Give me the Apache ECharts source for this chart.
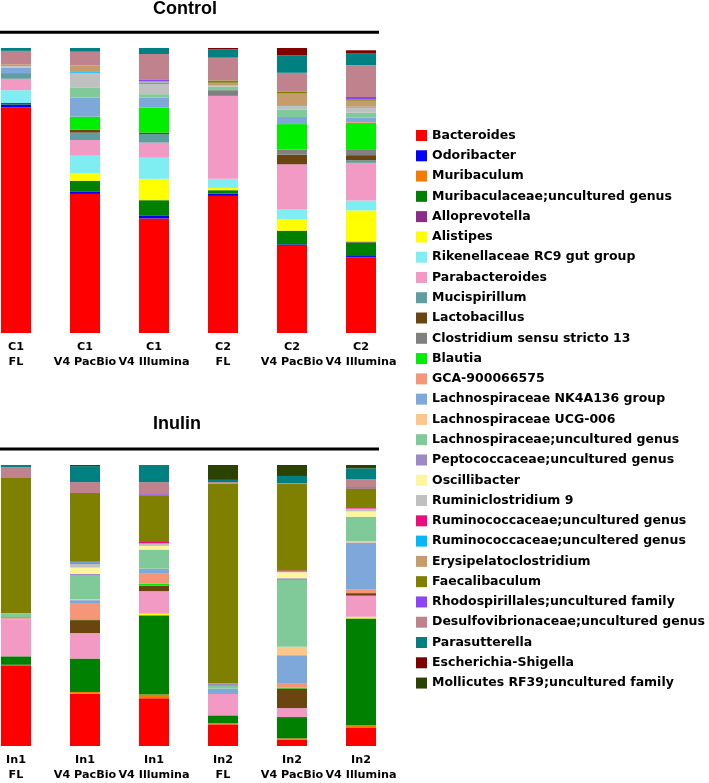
<!DOCTYPE html>
<html>
<head>
<meta charset="utf-8">
<script src="https://cdn.jsdelivr.net/npm/echarts@6/dist/echarts.min.js"></script>
<style>html,body{margin:0;padding:0;background:#fff;}#chart{width:709px;height:783px;}</style>
</head>
<body>
<div id="chart"></div>
<script>
// Taxa, in stacking order (bottom to top) and legend order
const taxa = [
  'Bacteroides','Odoribacter','Muribaculum','Muribaculaceae;uncultured genus',
  'Alloprevotella','Alistipes','Rikenellaceae RC9 gut group','Parabacteroides',
  'Mucispirillum','Lactobacillus','Clostridium sensu stricto 13','Blautia',
  'GCA-900066575','Lachnospiraceae NK4A136 group','Lachnospiraceae UCG-006','Lachnospiraceae;uncultured genus',
  'Peptococcaceae;uncultured genus','Oscillibacter','Ruminiclostridium 9','Ruminococcaceae;uncultured genus',
  'Ruminococcaceae;uncultered genus','Erysipelatoclostridium','Faecalibaculum','Rhodospirillales;uncultured family',
  'Desulfovibrionaceae;uncultured genus','Parasutterella','Escherichia-Shigella','Mollicutes RF39;uncultured family'
];
const taxaColors = [
  '#ff0000','#0000ff','#f57a00','#008000',
  '#8e2a8e','#ffff00','#7feef2','#f29ac4',
  '#5f9ea0','#6a4510','#808080','#00ee00',
  '#f69679','#7ea8da','#fdc68a','#80ca9a',
  '#9e88c5','#fff59d','#c0c0c0','#ee0a7f',
  '#00b8fa','#c69c6d','#808000','#8b44fa',
  '#c0828c','#008080','#800000','#2b4200'
];

// Bar labels
const controlLabels = ['C1\nFL','C1\nV4 PacBio','C1\nV4 Illumina','C2\nFL','C2\nV4 PacBio','C2\nV4 Illumina'];
const inulinLabels = ['In1\nFL','In1\nV4 PacBio','In1\nV4 Illumina','In2\nFL','In2\nV4 PacBio','In2\nV4 Illumina'];

// Relative abundance (%) per sample, one value per taxon in the order above
const c1FL        = [79.2,1,0,0.5, 0,0,4.5,4, 2,0,0,0, 0,1.9,0,0, 0,0,0.5,0, 0,0.7,0,0, 4.7,1,0,0];
const c1PacBio    = [48.8,0.9,0,3.7, 0,2.6,6.2,5.5, 2.6,1,0,4.6, 0,6.7,0,3.4, 0,0,5.3,0, 0.3,2.3,0,0, 4.8,1.3,0,0];
const c1Illumina  = [40.2,0.9,0,5.5, 0,7.5,7.4,5.3, 3,0.5,0,8.8, 0,3.5,0,1.2, 0,0,3.6,0, 0.5,0.5,0,0.4, 9.1,2.1,0,0];
const c2FL        = [48.1,0.8,0,1.2, 0,0.8,3.2,29.1, 0,0,2,0, 0,0,0,1.2, 0,0,0.4,0, 0,1,0.8,0, 8,2.9,0.5,0];
const c2PacBio    = [30.6,0.5,0,4.8, 0,4.1,3.5,15.7, 0,3.4,1.8,8.9, 0,2.5,0,2.5, 0,0,1.3,0, 0.3,4.1,0.6,0, 6.7,6.1,2.6,0];
const c2Illumina  = [26.5,0.5,0,4.8, 0.3,10.9,3.5,13.2, 0.9,1.8,2.1,9.2, 0.3,1.5,0,1.8, 0,0,1.8,0, 0.3,2.1,0.5,0.8, 11.1,4.3,1,0];
const in1FL       = [28.7,0,0.2,3.0, 0,0,0,13.2, 0,0,0,0, 0.4,0.4,0,1.3, 0,0,0,0, 0,0,48.4,0, 3.7,0.7,0,0];
const in1PacBio   = [18.6,0,0.6,11.9, 0,0,0,9.1, 0,4.6,0,0.3, 5.5,1.3,0.3,8.4, 0.6,2.3,1.4,0.4, 0.3,0,24.4,0, 3.9,5.7,0,0.4];
const in1Illumina = [17,0,1.3,28.2, 0,0.6,0,8, 0,2,0,0.6, 3.6,1.8,0,6.8, 0,1.3,0.9,0.5, 0,0,16.6,0.4, 4.3,6.1,0,0];
const in2FL       = [7.7,0,0.4,2.8, 0,0,0,7.6, 0,0,0,0, 0,1.9,0,1.0, 0.8,0,0,0, 0,0,71.2,0, 0.5,0.8,0,5.3];
const in2PacBio   = [2.3,0,0.4,7.6, 0,0,0,3.2, 0,7,0,0.3, 1.6,9.9,3,23.8, 0.6,2.1,0.3,0.4, 0,0,30.7,0, 0.3,2.6,0,3.9];
const in2Illumina = [6.4,0,1.1,37.9, 0,0.6,0,7.5, 0,0.9,0,0, 1.4,16.6,0.5,8.7, 0,1.9,1.0,0.5, 0,0,6.7,0.4, 2.8,3.9,0,1.2];

const controlSamples = [c1FL, c1PacBio, c1Illumina, c2FL, c2PacBio, c2Illumina];
const inulinSamples = [in1FL, in1PacBio, in1Illumina, in2FL, in2PacBio, in2Illumina];

const chart = echarts.init(document.getElementById('chart'), null, {renderer: 'canvas'});

const labelStyle = {
  fontFamily: 'DejaVu Sans', fontWeight: 'bold', fontSize: 11.2, color: '#000',
  lineHeight: 15, interval: 0, hideOverlap: false
};

const series = [];
taxa.forEach((name, t) => {
  series.push({
    name, type: 'bar', stack: 'control', xAxisIndex: 0, yAxisIndex: 0,
    barWidth: 30, itemStyle: {color: taxaColors[t]},
    data: controlSamples.map(s => s[t])
  });
  series.push({
    name, type: 'bar', stack: 'inulin', xAxisIndex: 1, yAxisIndex: 1,
    barWidth: 30, itemStyle: {color: taxaColors[t]},
    data: inulinSamples.map(s => s[t])
  });
});

chart.setOption({
  animation: false,
  backgroundColor: '#fff',
  grid: [
    {left: 16, width: 345, top: 48, height: 285},
    {left: 16, width: 345, top: 465, height: 285}
  ],
  xAxis: [
    {type: 'category', gridIndex: 0, data: controlLabels, boundaryGap: false,
     axisLine: {show: false}, axisTick: {show: false},
     axisLabel: Object.assign({margin: 6.5}, labelStyle)},
    {type: 'category', gridIndex: 1, data: inulinLabels, boundaryGap: false,
     axisLine: {show: false}, axisTick: {show: false},
     axisLabel: Object.assign({margin: 7}, labelStyle)}
  ],
  yAxis: [
    {type: 'value', gridIndex: 0, min: 0, max: 100, show: false},
    {type: 'value', gridIndex: 1, min: 0, max: 100, show: false}
  ],
  legend: {
    data: taxa, orient: 'vertical', left: 411, top: 124, icon: 'rect',
    itemWidth: 11, itemHeight: 11, itemGap: 7.28, selectedMode: false,
    textStyle: {fontFamily: 'DejaVu Sans', fontWeight: 'bold', fontSize: 12.5, color: '#000'}
  },
  graphic: [
    {type: 'text', left: 153, top: 0, style: {text: 'Control', font: 'bold 18px "Liberation Sans"', fill: '#000'}},
    {type: 'line', shape: {x1: 0, y1: 32.3, x2: 379, y2: 32.3}, style: {stroke: '#000', lineWidth: 3}},
    {type: 'text', left: 153, top: 415, style: {text: 'Inulin', font: 'bold 18px "Liberation Sans"', fill: '#000'}},
    {type: 'line', shape: {x1: 0, y1: 449, x2: 379, y2: 449}, style: {stroke: '#000', lineWidth: 3}}
  ],
  series
});
</script>
</body>
</html>
